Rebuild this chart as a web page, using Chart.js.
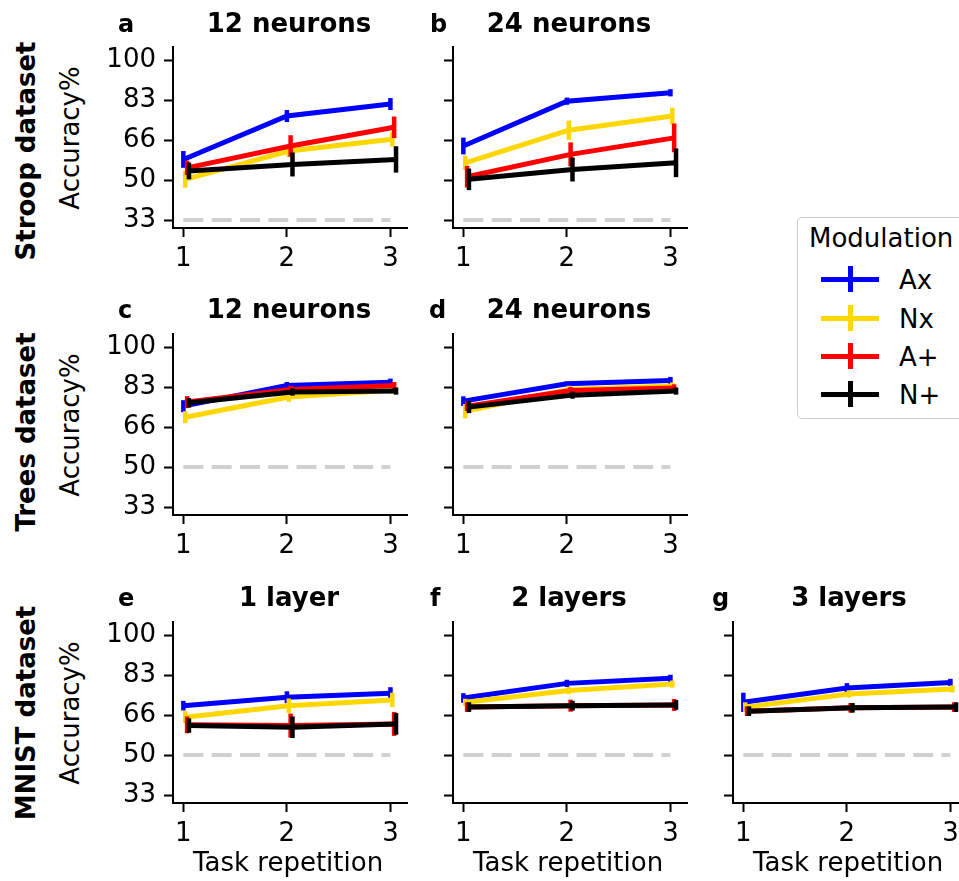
<!DOCTYPE html>
<html>
<head>
<meta charset="utf-8">
<script src="https://cdn.jsdelivr.net/npm/chart.js@4.4.1/dist/chart.umd.min.js"></script>
<style>
    html, body { margin: 0; padding: 0; background: #fff; }
    body { width: 959px; height: 881px; position: relative; overflow: hidden; font-family: "DejaVu Sans", sans-serif; color: #000; }
    canvas { position: absolute; }
    .txt { position: absolute; font-size: 26px; line-height: 26px; white-space: nowrap; }
    .bold { font-weight: bold; }
    .center { transform: translateX(-50%); }
    .rot { transform: translate(-50%, -50%) rotate(-90deg); }
    #legend { position: absolute; left: 797px; top: 217px; width: 180px; height: 200px; border: 1px solid #cccccc; border-radius: 5px; }
    .lh { position: absolute; height: 5px; width: 58px; }
    .lv { position: absolute; width: 5px; height: 26px; }
</style>
</head>
<body>

<script>
"use strict";

// x positions (task repetition) and y tick labels
const repetitions = [1, 2, 3];
const yTickValues = [100 / 3, 50, 200 / 3, 250 / 3, 100];
const yTickLabels = ["33", "50", "66", "83", "100"];

const seriesNames = ["Ax", "Nx", "A+", "N+"];
const seriesColors = ["#0000ff", "#ffd700", "#ff0000", "#000000"];

// chance level per dataset row
const chanceStroop = 100 / 3;
const chanceTrees = 50;
const chanceMnist = 50;

// a: Stroop, 12 neurons  (rows: Ax, Nx, A+, N+)
const strooop12Mean = [[58.6, 76.7, 81.7], [50.3, 62.1, 67.0], [55.1, 64.2, 72.0], [53.8, 56.5, 58.6]];
const strooop12Err = [[3.5, 2.5, 2.5], [3.5, 2.5, 3.0], [3.0, 4.5, 4.5], [3.5, 5.0, 5.5]];

// b: Stroop, 24 neurons
const strooop24Mean = [[64.2, 82.9, 86.4], [57.2, 70.8, 76.7], [51.4, 60.7, 67.6], [50.3, 54.4, 57.2]];
const strooop24Err = [[3.5, 1.5, 1.5], [3.0, 4.0, 3.5], [4.5, 5.0, 6.0], [4.5, 5.0, 6.0]];

// c: Trees, 12 neurons
const trees12Mean = [[75.4, 84.0, 85.4], [70.8, 79.2, 82.0], [77.1, 82.4, 84.0], [76.8, 81.3, 81.7]];
const trees12Err = [[2.5, 1.5, 1.5], [2.5, 2.0, 1.5], [2.5, 1.5, 1.5], [2.0, 1.5, 1.5]];

// d: Trees, 24 neurons
const trees24Mean = [[77.5, 84.7, 86.1], [73.3, 82.4, 83.8], [75.4, 81.9, 83.0], [75.0, 80.0, 81.7]];
const trees24Err = [[2.0, 1.0, 1.5], [3.0, 1.5, 1.5], [2.0, 1.5, 1.5], [2.5, 1.5, 1.5]];

// e: MNIST, 1 layer
const mnist1Mean = [[70.6, 74.1, 75.8], [65.8, 70.6, 73.0], [62.6, 62.3, 63.0], [62.3, 61.6, 63.0]];
const mnist1Err = [[2.0, 2.5, 2.5], [2.5, 3.0, 3.0], [3.5, 5.0, 5.0], [3.0, 4.5, 4.5]];

// f: MNIST, 2 layers
const mnist2Mean = [[73.8, 79.9, 82.0], [72.0, 76.9, 79.6], [70.0, 70.6, 70.9], [70.0, 70.6, 70.9]];
const mnist2Err = [[2.0, 1.5, 1.5], [1.5, 1.5, 1.5], [2.0, 2.5, 2.5], [2.0, 2.0, 2.0]];

// g: MNIST, 3 layers
const mnist3Mean = [[72.0, 78.0, 80.3], [70.0, 75.5, 77.6], [68.3, 69.7, 70.0], [68.3, 69.7, 70.0]];
const mnist3Err = [[4.0, 2.0, 1.5], [2.0, 1.5, 1.5], [2.0, 2.0, 2.0], [2.0, 2.0, 2.0]];

// small sideways shift so the error bars don't sit on each other
const dodge = [0, 0.018, 0.036, 0.054];

Chart.defaults.font.family = "DejaVu Sans";
Chart.defaults.font.size = 26;
Chart.defaults.color = "#000";

// vertical error bars, drawn right after each series so stacking order matches
const errorBars = {
    id: "errorBars",
    afterDatasetDraw(chart, args) {
        let ds = chart.data.datasets[args.index];
        if (!ds.errors) return;
        let ctx = chart.ctx;
        let xs = chart.scales.x;
        let ys = chart.scales.y;
        ctx.save();
        ctx.strokeStyle = ds.borderColor;
        ctx.lineWidth = 4.5;
        ds.data.forEach((p, i) => {
            let e = ds.errors[i];
            let px = xs.getPixelForValue(p.x);
            ctx.beginPath();
            ctx.moveTo(px, ys.getPixelForValue(p.y - e));
            ctx.lineTo(px, ys.getPixelForValue(p.y + e));
            ctx.stroke();
        });
        ctx.restore();
    }
};

const PLOT_W = 234, PLOT_H = 181, Y_AXIS_W = 75, X_AXIS_H = 52, PAD = 12;

function noPad(scale) {
    scale.paddingTop = 0;
    scale.paddingBottom = 0;
    scale.paddingLeft = 0;
    scale.paddingRight = 0;
}

function makePanel(spineLeft, plotTop, means, errs, chance, showYLabels) {
    let canvas = document.createElement("canvas");
    canvas.width = Y_AXIS_W + PLOT_W + PAD;
    canvas.height = PAD + PLOT_H + X_AXIS_H;
    canvas.style.left = (spineLeft - Y_AXIS_W) + "px";
    canvas.style.top = (plotTop - PAD) + "px";
    document.body.appendChild(canvas);

    let datasets = [{
        data: [{x: repetitions[0], y: chance}, {x: repetitions[repetitions.length - 1], y: chance}],
        borderColor: "#d0d0d0",
        borderWidth: 4,
        borderDash: [20, 8.3],
        pointRadius: 0,
        order: 10
    }];

    seriesNames.forEach((name, s) => {
        datasets.push({
            label: name,
            data: repetitions.map((r, i) => ({x: r + dodge[s], y: means[s][i]})),
            errors: errs[s],
            borderColor: seriesColors[s],
            borderWidth: 5,
            pointRadius: 0,
            tension: 0,
            order: 4 - s
        });
    });

    new Chart(canvas, {
        type: "line",
        data: {datasets},
        plugins: [errorBars],
        options: {
            responsive: false,
            animation: false,
            devicePixelRatio: 1,
            layout: {autoPadding: false, padding: {top: PAD, right: PAD, left: 0, bottom: 0}},
            plugins: {legend: {display: false}, tooltip: {enabled: false}},
            scales: {
                x: {
                    type: "linear",
                    min: 0.9,
                    max: 3.16,
                    afterBuildTicks: (scale) => { scale.ticks = repetitions.map(v => ({value: v})); },
                    afterFit: (scale) => { scale.height = X_AXIS_H; noPad(scale); },
                    ticks: {autoSkip: false, maxRotation: 0, padding: 7, callback: (v) => String(v)},
                    grid: {drawOnChartArea: false, drawTicks: true, tickLength: 9, tickColor: "#000", tickWidth: 2},
                    border: {display: true, color: "#000", width: 2}
                },
                y: {
                    type: "linear",
                    min: 30,
                    max: 105.5,
                    afterBuildTicks: (scale) => { scale.ticks = yTickValues.map(v => ({value: v})); },
                    afterFit: (scale) => { scale.width = Y_AXIS_W; noPad(scale); },
                    ticks: {autoSkip: false, padding: 8, callback: (v, i) => showYLabels ? yTickLabels[i] : ""},
                    grid: {drawOnChartArea: false, drawTicks: true, tickLength: 9, tickColor: "#000", tickWidth: 2},
                    border: {display: true, color: "#000", width: 2}
                }
            }
        }
    });
}

const colLeft = [173, 453, 733];
const rowTop = [47, 334, 622];

makePanel(colLeft[0], rowTop[0], strooop12Mean, strooop12Err, chanceStroop, true);
makePanel(colLeft[1], rowTop[0], strooop24Mean, strooop24Err, chanceStroop, false);
makePanel(colLeft[0], rowTop[1], trees12Mean, trees12Err, chanceTrees, true);
makePanel(colLeft[1], rowTop[1], trees24Mean, trees24Err, chanceTrees, false);
makePanel(colLeft[0], rowTop[2], mnist1Mean, mnist1Err, chanceMnist, true);
makePanel(colLeft[1], rowTop[2], mnist2Mean, mnist2Err, chanceMnist, false);
makePanel(colLeft[2], rowTop[2], mnist3Mean, mnist3Err, chanceMnist, false);

// text around the panels
function addText(str, x, y, cls) {
    let d = document.createElement("div");
    d.className = "txt " + cls;
    d.textContent = str;
    d.style.left = x + "px";
    d.style.top = y + "px";
    document.body.appendChild(d);
    return d;
}

const titles = [
    ["12 neurons", 0, 0], ["24 neurons", 1, 0],
    ["12 neurons", 0, 1], ["24 neurons", 1, 1],
    ["1 layer", 0, 2], ["2 layers", 1, 2], ["3 layers", 2, 2]
];
const titleBase = [32, 318, 606];
titles.forEach(([t, c, r]) => addText(t, colLeft[c] + PLOT_W / 2 - 1, titleBase[r] - 22, "bold center"));

const letters = [["a", 118, 0], ["b", 430, 0], ["c", 118, 1], ["d", 429, 1], ["e", 118, 2], ["f", 430, 2], ["g", 712, 2]];
letters.forEach(([t, x, r]) => {
    let d = addText(t, x, titleBase[r] - 21, "bold");
    d.style.fontSize = "24px";
});

const rowNames = ["Stroop dataset", "Trees dataset", "MNIST dataset"];
const rowNameCenter = [151, 432, 713];
rowNames.forEach((t, r) => addText(t, 26, rowNameCenter[r], "bold rot"));

rowTop.forEach((top) => addText("Accuracy%", 70, top + PLOT_H / 2, "rot"));

colLeft.forEach((left) => addText("Task repetition", left + PLOT_W / 2 - 2, 849, "center"));
</script>

<div id="legend"></div>
<script>
"use strict";
(() => {
    let legend = document.getElementById("legend");
    let title = document.createElement("div");
    title.className = "txt";
    title.textContent = "Modulation";
    title.style.left = "11px";
    title.style.top = "7px";
    legend.appendChild(title);

    const entryY = [61, 100, 138, 176];
    seriesNames.forEach((name, s) => {
        let y = entryY[s];
        let h = document.createElement("div");
        h.className = "lh";
        h.style.background = seriesColors[s];
        h.style.left = "23px";
        h.style.top = (y - 2.5) + "px";
        legend.appendChild(h);
        let v = document.createElement("div");
        v.className = "lv";
        v.style.background = seriesColors[s];
        v.style.left = "49.5px";
        v.style.top = (y - 13) + "px";
        legend.appendChild(v);
        let t = document.createElement("div");
        t.className = "txt";
        t.textContent = name;
        t.style.left = "101px";
        t.style.top = (y + 9.5 - 22) + "px";
        legend.appendChild(t);
    });
})();
</script>
</body>
</html>
